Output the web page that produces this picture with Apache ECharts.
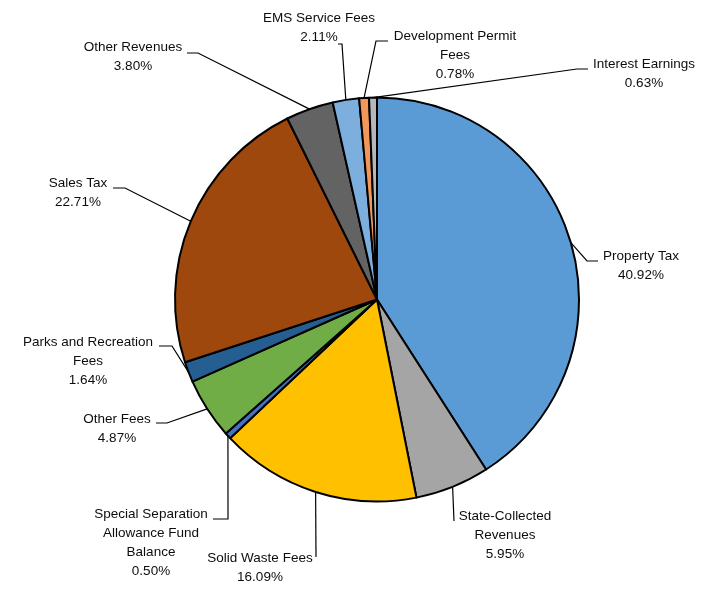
<!DOCTYPE html>
<html>
<head>
<meta charset="utf-8">
<script src="https://cdn.jsdelivr.net/npm/echarts@6/dist/echarts.min.js"></script>
<style>
  html, body { margin: 0; padding: 0; background: #ffffff; }
  #chart { width: 719px; height: 589px; }
</style>
</head>
<body>
<div id="chart"></div>
<script>
// Revenue sources, clockwise from 12 o'clock
const categories = [
  'Property Tax',
  'State-Collected\nRevenues',
  'Solid Waste Fees',
  'Special Separation\nAllowance Fund\nBalance',
  'Other Fees',
  'Parks and Recreation\nFees',
  'Sales Tax',
  'Other Revenues',
  'EMS Service Fees',
  'Development Permit\nFees',
  'Interest Earnings'
];

// Share of total revenue, percent
const shares = [40.92, 5.95, 16.09, 0.50, 4.87, 1.64, 22.71, 3.80, 2.11, 0.78, 0.63];

const sliceColors = [
  '#5B9BD5', '#A5A5A5', '#FFC000', '#4472C4', '#70AD47', '#255E91',
  '#9E480E', '#636363', '#7CAFDD', '#F1975A', '#B7B7B7'
];

// Label placement: text block centre, leader bend point, leader end point
const labelSpots = [
  { c: [641, 266],   bend: [587, 261], end: [598, 261] },
  { c: [505, 535],   bend: [454, 521], end: [454, 521] },
  { c: [260, 567.5], bend: [316, 557], end: [316, 557] },
  { c: [151, 543],   bend: [228, 519], end: [213, 519] },
  { c: [117, 428.5], bend: [167, 423], end: [156, 423] },
  { c: [88, 361],    bend: [172, 346], end: [159, 346] },
  { c: [78, 193],    bend: [125, 188], end: [113, 188] },
  { c: [133, 57],    bend: [198, 53],  end: [187, 53] },
  { c: [319, 28],    bend: [342, 44],  end: [338, 44] },
  { c: [455, 55],    bend: [376, 41],  end: [388, 41] },
  { c: [644, 74],    bend: [577, 69],  end: [588, 69] }
];

const chart = echarts.init(document.getElementById('chart'), null, { renderer: 'canvas' });

const pieData = categories.map((name, i) => ({
  name: name,
  value: shares[i],
  itemStyle: { color: sliceColors[i] }
}));

chart.setOption({
  backgroundColor: '#ffffff',
  animation: false,
  series: [{
    type: 'pie',
    center: [377, 299.5],
    radius: [0, 202],
    startAngle: 90,
    clockwise: true,
    avoidLabelOverlap: false,
    data: pieData,
    itemStyle: { borderColor: '#000000', borderWidth: 2 },
    label: {
      show: true,
      position: 'outside',
      color: '#0d0d0d',
      fontFamily: "'Liberation Sans Narrow', 'Arial Narrow', 'Liberation Sans', Arial, sans-serif",
      fontSize: 13.5,
      lineHeight: 19,
      align: 'center',
      formatter: p => p.name + '\n' + p.value.toFixed(2) + '%'
    },
    labelLine: {
      show: true,
      length: 10,
      length2: 10,
      lineStyle: { color: '#000000', width: 1.2 }
    },
    labelLayout: function (params) {
      const spot = labelSpots[params.dataIndex];
      const pts = params.labelLinePoints;
      const start = pts ? pts[0] : spot.bend;
      return {
        x: spot.c[0],
        y: spot.c[1],
        align: 'center',
        verticalAlign: 'middle',
        labelLinePoints: [start, spot.bend, spot.end]
      };
    },
    emphasis: { disabled: true }
  }]
});
</script>
</body>
</html>
